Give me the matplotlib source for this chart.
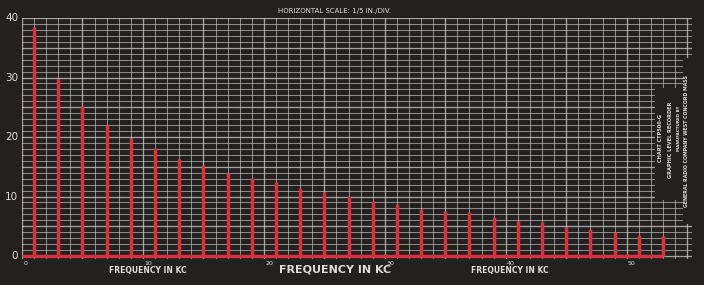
import matplotlib
matplotlib.use("Agg")
import matplotlib.pyplot as plt
from matplotlib.ticker import MultipleLocator
from matplotlib.patches import Rectangle

# ---- data ----
harmonics_kc = [1, 3, 5, 7, 9, 11, 13, 15, 17, 19, 21, 23, 25, 27, 29,
                31, 33, 35, 37, 39, 41, 43, 45, 47, 49, 51, 53]
amplitudes = [38.5, 29.7, 25.2, 22.0, 19.8, 18.2, 16.3, 15.3, 13.9, 13.1,
              12.4, 11.4, 10.8, 10.1, 9.2, 8.7, 7.9, 7.6, 7.4, 6.6,
              5.9, 5.7, 4.9, 4.5, 4.0, 3.5, 3.4]
y_ticks = [0, 10, 20, 30, 40]
y_tick_labels = ["0", "10", "20", "30", "40"]
x_ticks = [0, 10, 20, 30, 40, 50]
x_tick_labels = ["0", "10", "20", "30", "40", "50"]

BG = "#232120"
GRID = "#cfcfcf"
RED = "#d9323c"
TXT = "#dcdcdc"

fig = plt.figure(figsize=(7.04, 2.85), dpi=100, facecolor=BG)
ax = fig.add_axes([22/704, 1-259/285, 670/704, 241/285])
ax.set_facecolor(BG)
ax.set_xlim(0, 55.4)
ax.set_ylim(-0.5, 40)

# graph paper grid
ax.xaxis.set_major_locator(MultipleLocator(5))
ax.xaxis.set_minor_locator(MultipleLocator(1))
ax.yaxis.set_major_locator(MultipleLocator(5))
ax.yaxis.set_minor_locator(MultipleLocator(1))
ax.grid(which="minor", color=GRID, lw=0.75, alpha=0.6)
ax.grid(which="major", color=GRID, lw=0.95, alpha=0.75)
ax.tick_params(which="both", length=0, labelleft=False, labelbottom=False)
for s in ax.spines.values():
    s.set_visible(False)
ax.set_axisbelow(True)

# spectrum lines
ax.vlines(harmonics_kc, 0, amplitudes, color=RED, lw=2.5, zorder=3)
ax.hlines(0, 0, harmonics_kc[-1], color=RED, lw=2.4, zorder=3)

# y labels
for v, lab in zip(y_ticks, y_tick_labels):
    ax.text(-0.3, v, lab, ha="right", va="center", color=TXT, fontsize=7.5,
            clip_on=False)
# x labels (small, below grid)
for v, lab in zip(x_ticks, x_tick_labels):
    ax.text(v + 0.1, -0.9, lab, ha="left", va="top", color=TXT, fontsize=4.5,
            clip_on=False)

# captions
fig.text(148/704, 1-271/285, "FREQUENCY IN KC", ha="center", va="center",
         color=TXT, fontsize=5.5, fontweight="bold")
fig.text(335/704, 1-270/285, "FREQUENCY IN KC", ha="center", va="center",
         color=TXT, fontsize=8, fontweight="bold")
fig.text(510/704, 1-271/285, "FREQUENCY IN KC", ha="center", va="center",
         color=TXT, fontsize=5.5, fontweight="bold")
fig.text(335/704, 1-11/285, "HORIZONTAL SCALE: 1/5 IN./DIV.", ha="center",
         va="center", color=TXT, fontsize=5)

# maker's imprint box on right
fig.patches.append(Rectangle((655/704, 1-200/285), 28/704, 112/285,
                             transform=fig.transFigure, facecolor=BG,
                             edgecolor="none", zorder=5))
fig.patches.append(Rectangle((683/704, 1-224/285), 9/704, 166/285,
                             transform=fig.transFigure, facecolor=BG,
                             edgecolor="none", zorder=5))
imprint = [(661, 138, "CHART CTP500-G", 3.6),
           (671, 140, "GRAPHIC LEVEL RECORDER", 3.6),
           (679, 128, "MANUFACTURED BY", 3.0),
           (687, 141, "GENERAL RADIO COMPANY WEST CONCORD MASS", 3.4)]
for x, y, t, fs in imprint:
    fig.text(x/704, 1-y/285, t, rotation=90, ha="center", va="center",
             color=TXT, fontsize=fs, fontweight="bold", zorder=6)

fig.savefig("out.png", dpi=100, facecolor=BG)
